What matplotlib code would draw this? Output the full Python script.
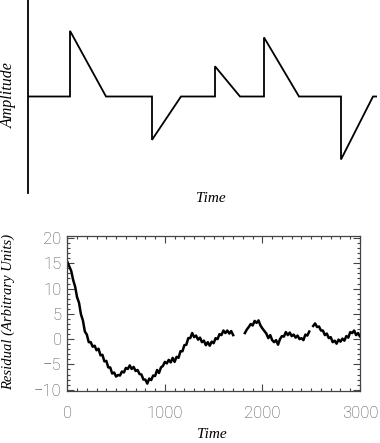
import numpy as np
import matplotlib
matplotlib.use('Agg')
from matplotlib import pyplot as plt

plt.rcParams['font.serif'] = ['Liberation Serif', 'DejaVu Serif']

# --- top panel: schematic pulses (arbitrary units) ---
pulse_start = [4.2, 12.4, 18.7, 23.6, 31.3]
pulse_width = [3.6, 2.9, 2.5, 3.5, 3.2]
pulse_amp = [1.0, -0.66, 0.46, 0.90, -0.96]
sketch_end = 34.9

# --- bottom panel: residual trace, read every 20 time units ---
res_t0, res_dt = 0, 20
residual = [
    15.3, 14.4, 13.5, 11.7, 10.4, 8.3, 7.2, 4.9, 3.7, 1.5,
    0.9, -0.6, -0.6, -1.5, -1.3, -2.2, -1.9, -3.2, -3.1, -4.4,
    -4.3, -5.6, -5.6, -6.8, -6.6, -7.4, -7.1, -7.2, -6.4, -6.6,
    -5.7, -5.9, -5.2, -5.9, -5.5, -6.3, -6.1, -6.9, -7.0, -8.0,
    -8.0, -8.8, -7.8, -8.1, -7.2, -7.3, -6.1, -6.7, -5.6, -5.3,
    -4.5, -4.8, -4.1, -4.6, -3.7, -4.5, -3.5, -3.7, -2.4, -2.4,
    -1.2, -1.1, 0.2, 0.2, 1.2, 0.4, 0.7, -0.1, 0.3, -0.6,
    -0.3, -1.2, -0.6, -1.3, -0.5, -0.8, 0.2, 0.0, 1.0, 0.8,
    1.7, 1.2, 1.7, 1.1, 1.6, 0.8, np.nan, np.nan, np.nan, np.nan,
    np.nan, 1.2, 1.9, 2.4, 3.0, 2.7, 3.6, 3.2, 3.7, 2.7,
    2.1, 1.6, 1.1, 0.2, 0.8, -0.2, -0.6, -0.2, -1.1, 0.0,
    0.6, 0.5, 1.4, 0.8, 1.3, 0.6, 0.9, 0.3, 0.7, 0.0,
    0.2, -0.2, 0.9, 0.7, 1.5, np.nan, 2.6, 3.1, 2.4, 2.5,
    1.7, 1.7, 0.8, 1.1, 0.2, 0.4, -0.6, -0.3, -0.9, -0.1,
    -0.5, 0.1, -0.3, 0.6, 0.3, 1.4, 1.2, 1.7, 0.8, 1.2,
    0.5, 1.0, 0.4, 0.9, 0.3, 0.6, 0.2,
]
res_time = res_t0 + res_dt * np.arange(len(residual))

x_ticks = [0, 1000, 2000, 3000]
y_ticks = [-10, -5, 0, 5, 10, 15, 20]

serif_it = dict(family='serif', fontstyle='italic', color='black')

fig = plt.figure(figsize=(3.8, 4.43), dpi=100)

# top schematic
ax1 = fig.add_axes([28 / 380, 1 - 193 / 443, 349 / 380, 193 / 443])
sx, sy = [0], [0]
for s, w, a in zip(pulse_start, pulse_width, pulse_amp):
    sx += [s, s, s + w]
    sy += [0, a, 0]
sx.append(sketch_end)
sy.append(0)
ax1.plot(sx, sy, color='black', lw=1.3, solid_joinstyle='miter')
ax1.set_xlim(0, sketch_end)
ax1.set_ylim(-1.47, 1.47)
for side in ['top', 'right', 'bottom']:
    ax1.spines[side].set_visible(False)
ax1.spines['left'].set_linewidth(1.3)
ax1.set_xticks([])
ax1.set_yticks([])
fig.text(9 / 380, 1 - 95 / 443, 'Amplitude', rotation=90, ha='center', va='center',
         fontsize=11.5, **serif_it)
fig.text(211 / 380, 1 - 199 / 443, 'Time', ha='center', va='center',
         fontsize=11, **serif_it)

# bottom residual plot
ax2 = fig.add_axes([67.3 / 380, 1 - 390.7 / 443, 292.7 / 380, 154.7 / 443])
ax2.plot(res_time, residual, color='black', lw=1.8)
ax2.set_xlim(0, 3000)
ax2.set_ylim(-10.2, 20.4)
ax2.set_xticks(x_ticks)
ax2.set_yticks(y_ticks)
ax2.set_xticks(np.arange(0, 3001, 100), minor=True)
ax2.set_yticks(np.arange(-10, 21, 1), minor=True)
ax2.tick_params(which='both', direction='in', top=True, right=True,
                color='#444', width=0.8)
ax2.tick_params(which='major', length=5)
ax2.tick_params(which='minor', length=2.5)
ax2.tick_params(axis='x', pad=11)
ax2.tick_params(axis='y', pad=4)
for lab in ax2.get_xticklabels() + ax2.get_yticklabels():
    lab.set_family('Roboto')
    lab.set_fontweight('light')
    lab.set_fontsize(12)
    lab.set_color('#4d4d4d')
for sp in ax2.spines.values():
    sp.set_color('#444')
    sp.set_linewidth(0.9)
fig.text(8 / 380, 1 - 312 / 443, 'Residual (Arbitrary Units)', rotation=90,
         ha='center', va='center', fontsize=10.5, **serif_it)
fig.text(212 / 380, 1 - 434 / 443, 'Time', ha='center', va='center',
         fontsize=11, **serif_it)

fig.savefig('out.png', dpi=100)
